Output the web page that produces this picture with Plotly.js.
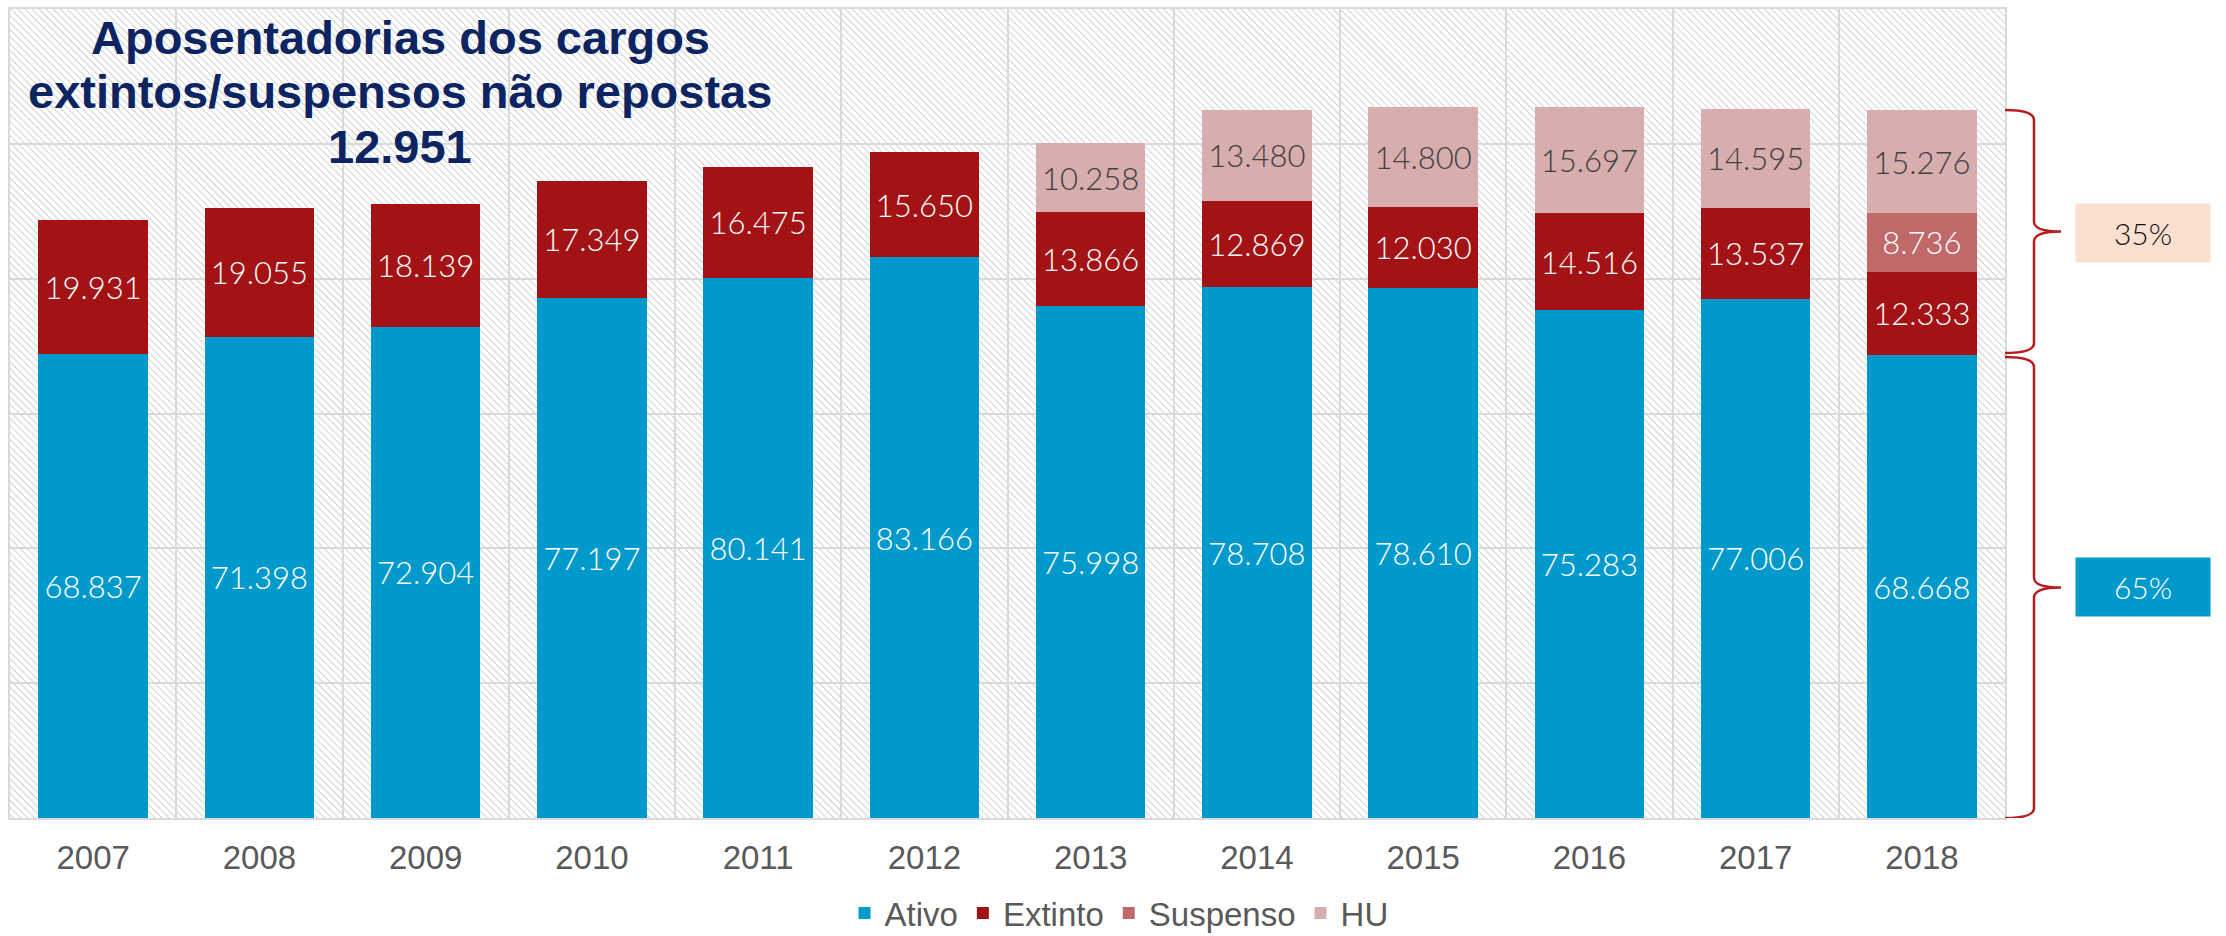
<!DOCTYPE html>
<html>
<head>
<meta charset="utf-8">
<script src="https://cdn.plot.ly/plotly-3.0.1.min.js"></script>
<style>html,body{margin:0;padding:0;background:#fff;}#chart{width:2226px;height:936px;}</style>
</head>
<body>
<div id="chart"></div>
<script>
const anos = ['2007','2008','2009','2010','2011','2012','2013','2014','2015','2016','2017','2018'];
const ativo = [68837,71398,72904,77197,80141,83166,75998,78708,78610,75283,77006,68668];
const extinto = [19931,19055,18139,17349,16475,15650,13866,12869,12030,14516,13537,12333];
const suspenso = [null,null,null,null,null,null,null,null,null,null,null,8736];
const hu = [null,null,null,null,null,null,10258,13480,14800,15697,14595,15276];
const tituloLinhas = ['Aposentadorias dos cargos','extintos/suspensos não repostas','12.951'];
const nomes = ['Ativo','Extinto','Suspenso','HU'];
const cores = ['#0099cc','#a31214','#bf696b','#d7adad'];
const coresTexto = ['#ffffff','#ffffff','#ffffff','#404040'];

const series = [ativo, extinto, suspenso, hu];
const traces = series.map((vals, i) => ({
  type: 'bar',
  name: nomes[i],
  x: anos,
  y: vals,
  marker: {color: cores[i], line: {width: 0}},
  texttemplate: '%{y:,.0f}',
  textposition: 'inside',
  insidetextanchor: 'middle',
  textangle: 0,
  constraintext: 'none',
  textfont: {family: 'Lato, sans-serif', size: 31, weight: 300, color: coresTexto[i]},
  hoverinfo: 'skip'
}));

// last-year split for the braces
const n = anos.length - 1;
const baseUlt = ativo[n];
const topoUlt = ativo[n] + (extinto[n]||0) + (suspenso[n]||0) + (hu[n]||0);
const pctSup = Math.round((topoUlt - baseUlt) / topoUlt * 100);
const pctInf = 100 - pctSup;

const W = 2226, H = 936;
const mL = 10, mR = 221, mT = 9, mB = 118;
const pw = W - mL - mR, ph = H - mT - mB;
const px = X => (X - mL) / pw;
const py = Y => (H - mB - Y) / ph;

const bx0 = px(2005), bx1 = px(2034), bx2 = px(2061);
const d = 1500;
function brace(top, bot) {
  const mid = (top + bot) / 2;
  return `M ${bx0},${top} Q ${bx1},${top} ${bx1},${top - d} L ${bx1},${mid + d} Q ${bx1},${mid} ${bx2},${mid} ` +
         `Q ${bx1},${mid} ${bx1},${mid - d} L ${bx1},${bot + d} Q ${bx1},${bot} ${bx0},${bot}`;
}
const gap = 300;

const hatch = `<svg xmlns="http://www.w3.org/2000/svg" width="${pw}" height="${ph}"><defs><pattern id="p" width="5" height="5" patternUnits="userSpaceOnUse" patternTransform="rotate(-45)"><line x1="0" y1="0" x2="0" y2="5" stroke="#c2c2c2" stroke-width="1.5"/></pattern></defs><rect width="100%" height="100%" fill="url(#p)"/></svg>`;

const titleFont = {family: 'Liberation Sans, Arial, sans-serif', size: 47, color: '#0c2461', weight: 'bold'};
const titleY = [38, 92, 146];

const annotations = tituloLinhas.map((t, i) => ({
  text: '<b>' + t + '</b>', xref: 'paper', yref: 'paper', x: px(400), y: py(titleY[i]),
  xanchor: 'center', yanchor: 'middle', showarrow: false, font: titleFont
}));
annotations.push({
  text: pctSup + '%', xref: 'paper', yref: 'y', x: px(2143), y: (topoUlt + baseUlt) / 2,
  xanchor: 'center', yanchor: 'middle', showarrow: false, width: 132, height: 56,
  bgcolor: '#fbe0d0', font: {family: 'Lato, sans-serif', size: 30, weight: 300, color: '#111111'}
});
annotations.push({
  text: pctInf + '%', xref: 'paper', yref: 'y', x: px(2143), y: baseUlt / 2,
  xanchor: 'center', yanchor: 'middle', showarrow: false, width: 132, height: 56,
  bgcolor: '#0099cc', font: {family: 'Lato, sans-serif', size: 30, weight: 300, color: '#ffffff'}
});

const layout = {
  width: W, height: H,
  margin: {l: mL, r: mR, t: mT, b: mB, pad: 0, autoexpand: false},
  barmode: 'stack',
  bargap: 0.34,
  separators: ',.',
  paper_bgcolor: '#ffffff',
  plot_bgcolor: '#ffffff',
  showlegend: true,
  legend: {orientation: 'h', xref: 'paper', x: px(1119), xanchor: 'center',
           yref: 'container', y: (H - 913) / H, yanchor: 'middle',
           traceorder: 'normal', font: {family: 'Liberation Sans, Arial, sans-serif', size: 33, color: '#595959'}},
  xaxis: {type: 'category', tickson: 'boundaries', showgrid: true, gridcolor: '#d9d9d9', gridwidth: 2,
          showline: true, mirror: true, linecolor: '#d9d9d9', linewidth: 2, ticks: '',
          ticklabelstandoff: 9, automargin: false,
          tickfont: {family: 'Liberation Sans, Arial, sans-serif', size: 33, color: '#595959'}},
  yaxis: {range: [0, 120000], tick0: 0, dtick: 20000, showticklabels: false, showgrid: true,
          gridcolor: '#d9d9d9', gridwidth: 2, showline: true, mirror: true, linecolor: '#d9d9d9',
          linewidth: 2, zeroline: false, ticks: '', automargin: false},
  images: [{source: 'data:image/svg+xml;charset=utf-8,' + encodeURIComponent(hatch),
            xref: 'paper', yref: 'paper', x: 0, y: 1, sizex: 1, sizey: 1,
            xanchor: 'left', yanchor: 'top', sizing: 'stretch', layer: 'below'}],
  shapes: [
    {type: 'path', xref: 'paper', yref: 'y', path: brace(topoUlt, baseUlt + gap), line: {color: '#b81c1c', width: 2.5}},
    {type: 'path', xref: 'paper', yref: 'y', path: brace(baseUlt - gap, 0), line: {color: '#b81c1c', width: 2.5}}
  ],
  annotations: annotations
};

Plotly.newPlot('chart', traces, layout, {displayModeBar: false, staticPlot: true});
</script>
</body>
</html>
